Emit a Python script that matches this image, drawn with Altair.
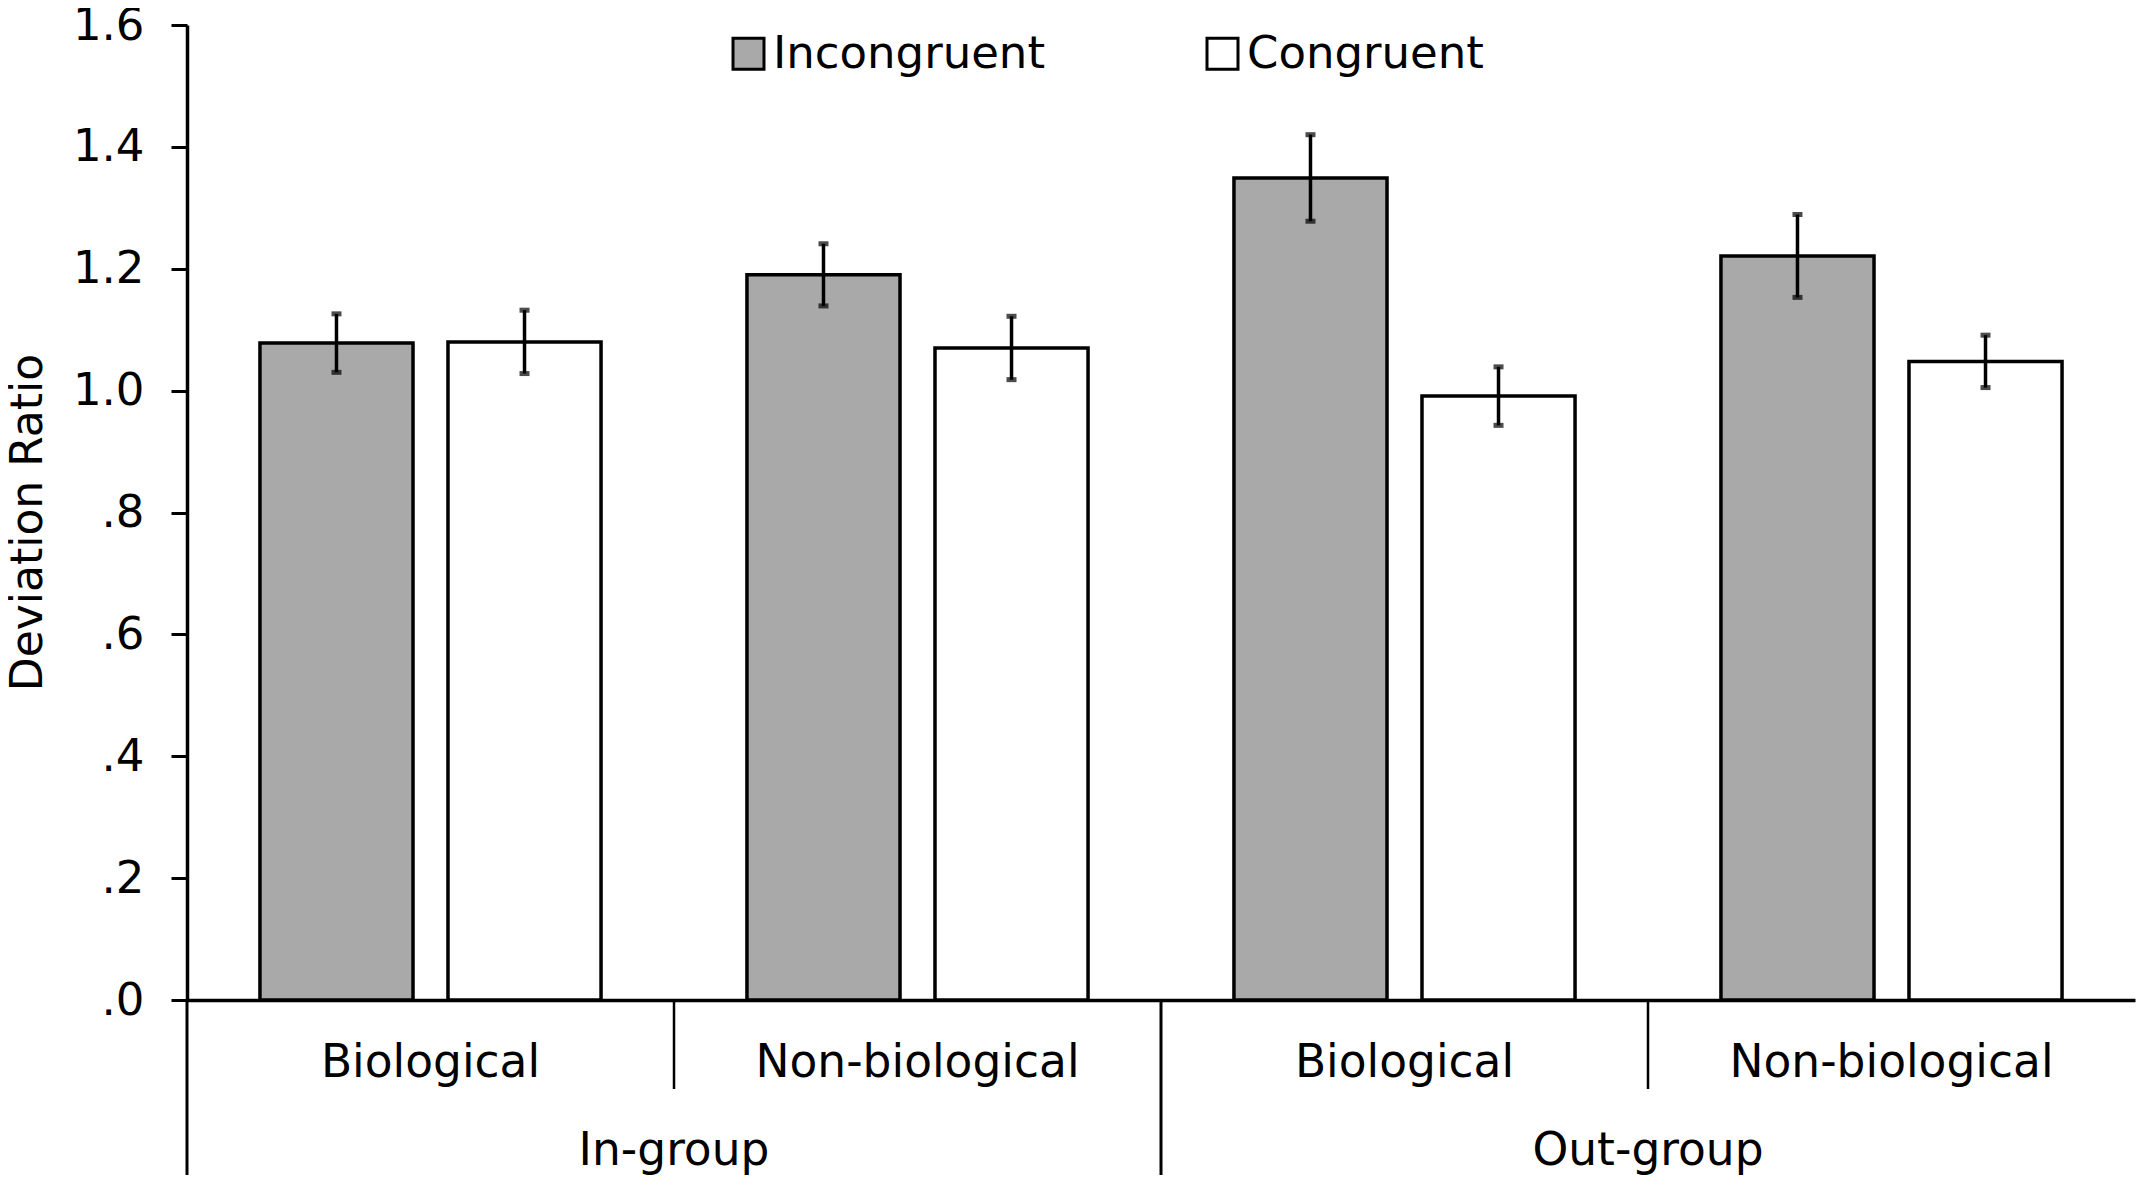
import altair as alt
import pandas as pd

# ---- data ----
groups = ["In-group", "In-group", "Out-group", "Out-group"]
subgroups = ["Biological", "Non-biological", "Biological", "Non-biological"]
conditions = ["Incongruent", "Congruent"]
incongruent_mean = [1.078, 1.190, 1.349, 1.221]
incongruent_se = [0.048, 0.051, 0.071, 0.068]
congruent_mean = [1.080, 1.070, 0.991, 1.048]
congruent_se = [0.052, 0.052, 0.048, 0.043]
y_ticks = [0.0, 0.2, 0.4, 0.6, 0.8, 1.0, 1.2, 1.4, 1.6]
fill_colors = ["#a9a9a9", "#ffffff"]

FONT = "DejaVu Sans"

cells = [f"{g}|{s}" for g, s in zip(groups, subgroups)]
rows = []
for i, c in enumerate(cells):
    for cond, means, ses in (("Incongruent", incongruent_mean, incongruent_se),
                             ("Congruent", congruent_mean, congruent_se)):
        m, se = means[i], ses[i]
        rows.append(dict(cell=c, group=groups[i], sub=subgroups[i], condition=cond,
                         mean=m, lo=m - se, hi=m + se))
df = pd.DataFrame(rows)

cell_df = pd.DataFrame({"cell": cells, "group": groups, "sub": subgroups})
first_idx = [i for i in range(len(cells)) if i == 0 or groups[i] != groups[i - 1]]
group_df = cell_df.iloc[first_idx].reset_index(drop=True)
inner_df = cell_df.drop(index=first_idx).reset_index(drop=True)

x_scale = alt.Scale(domain=cells, paddingInner=0, paddingOuter=0)
xo_scale = alt.Scale(domain=conditions, paddingInner=0.186, paddingOuter=0.388)
y_scale = alt.Scale(domain=[0, 1.6], nice=False, zero=True)

x_axis = alt.Axis(title=None, labels=False, ticks=False, grid=False, domain=True,
                  domainColor="black", domainWidth=3.5)
y_axis = alt.Axis(values=y_ticks, title="Deviation Ratio", grid=False,
                  labelExpr="substring(format(datum.value, '.1f'), datum.value < 1 ? 1 : 0)",
                  tickSize=16, tickWidth=3, tickColor="black",
                  domainColor="black", domainWidth=3.5,
                  labelPadding=27, labelFontSize=45, labelColor="black", labelFont=FONT,
                  titleFontSize=44, titleFont=FONT, titleFontWeight="normal", titleColor="black",
                  titleX=-146, titleY=497, titleAngle=270, titleBaseline="alphabetic",
                  titleAlign="center")

X = alt.X("cell:N", scale=x_scale, axis=x_axis)
XO = alt.XOffset("condition:N", scale=xo_scale)

bars = alt.Chart(df).mark_bar(stroke="black", strokeWidth=3.5).encode(
    x=X,
    xOffset=XO,
    y=alt.Y("mean:Q", scale=y_scale, axis=y_axis),
    fill=alt.Fill("condition:N", scale=alt.Scale(domain=conditions, range=fill_colors),
                  legend=alt.Legend(title=None, orient="none", legendX=539, legendY=6,
                                    direction="horizontal", symbolType="square",
                                    symbolSize=960, symbolStrokeColor="black",
                                    symbolStrokeWidth=3, labelFontSize=45, labelFont=FONT,
                                    labelColor="black", labelOffset=2, columnPadding=154,
                                    labelLimit=0, padding=0)),
)

err = alt.Chart(df).mark_rule(color="black", strokeWidth=3.5).encode(
    x=X, xOffset=XO,
    y=alt.Y("lo:Q", scale=y_scale, axis=y_axis),
    y2="hi:Q",
)
cap_lo = alt.Chart(df).mark_tick(color="black", size=10, thickness=5).encode(
    x=X, xOffset=XO, y=alt.Y("lo:Q", scale=y_scale, axis=y_axis))
cap_hi = alt.Chart(df).mark_tick(color="black", size=10, thickness=5).encode(
    x=X, xOffset=XO, y=alt.Y("hi:Q", scale=y_scale, axis=y_axis))

sub_labels = alt.Chart(cell_df).mark_text(fontSize=45.5, font=FONT, color="black",
                                          baseline="alphabetic", align="center").encode(
    x=alt.X("cell:N", scale=x_scale, axis=x_axis),
    y=alt.value(1052),
    text="sub:N",
)
group_labels = alt.Chart(group_df).mark_text(fontSize=45.5, font=FONT, color="black",
                                             baseline="alphabetic", align="center").encode(
    x=alt.X("cell:N", scale=x_scale, axis=x_axis, bandPosition=1),
    y=alt.value(1140),
    text="group:N",
)
inner_sep = alt.Chart(inner_df).mark_rule(color="black", strokeWidth=2.5).encode(
    x=alt.X("cell:N", scale=x_scale, axis=x_axis, bandPosition=0),
    y=alt.value(975), y2=alt.value(1064),
)
group_sep = alt.Chart(group_df).mark_rule(color="black", strokeWidth=3).encode(
    x=alt.X("cell:N", scale=x_scale, axis=x_axis, bandPosition=0),
    y=alt.value(975), y2=alt.value(1152),
)

chart = alt.layer(bars, err, cap_lo, cap_hi, sub_labels, group_labels, inner_sep, group_sep).properties(
    width=1948, height=975,
    autosize=alt.AutoSizeParams(type="none"),
    padding={"left": 179, "top": 17, "right": 3, "bottom": 175},
    background="white",
).configure_view(stroke=None)

chart.save("out.html", embed_options={"renderer": "svg", "actions": False})
